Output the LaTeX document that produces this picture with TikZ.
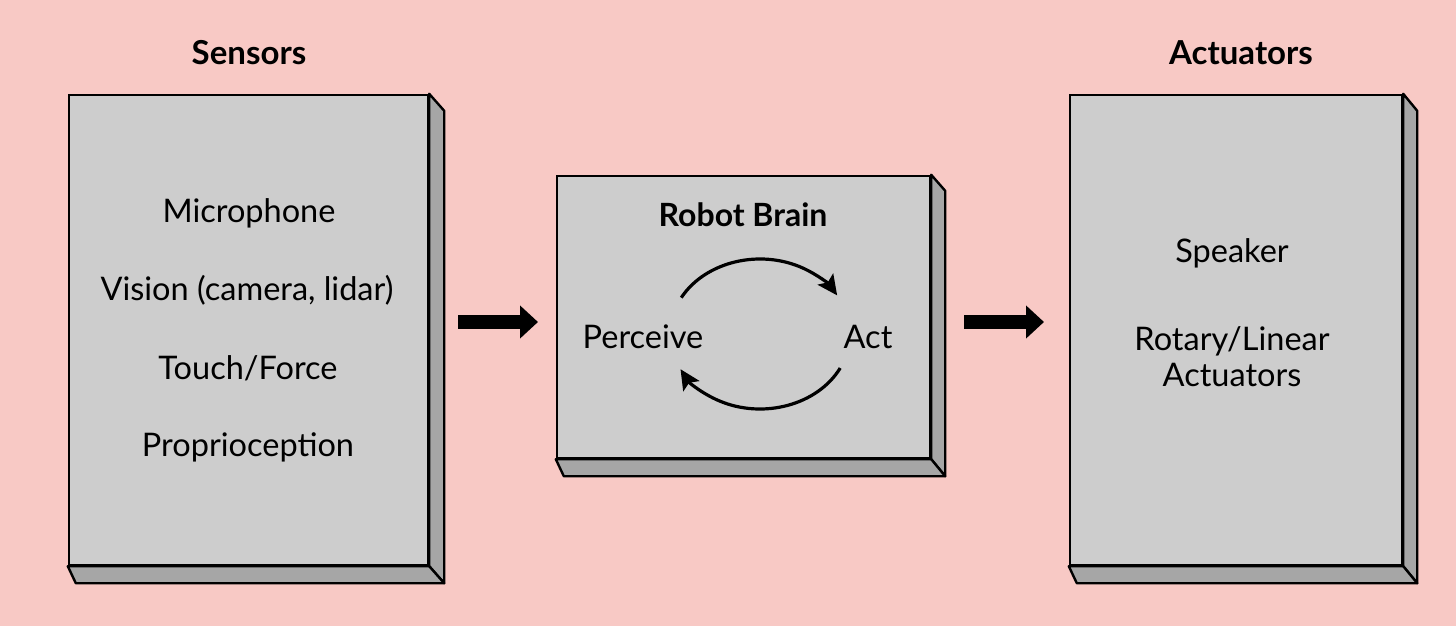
\documentclass[tikz,border=0pt]{standalone}
\usepackage{fontspec}
\setmainfont{Lato}
\usetikzlibrary{arrows.meta}
\definecolor{bgpink}{HTML}{F8C9C5}
\definecolor{frontgray}{HTML}{CDCDCD}
\definecolor{sidegray}{HTML}{A6A6A6}
\tikzset{
  front/.style={draw=black, line width=2.4pt, fill=frontgray, inner sep=0pt},
  sideface/.style={draw=black, line width=2.4pt, fill=sidegray, line join=round},
  lbl/.style={font=\fontsize{32.5}{36}\selectfont, inner sep=0pt, align=center},
  ttl/.style={font=\fontsize{33}{36}\selectfont\bfseries, inner sep=0pt},
  bigarrow/.style={line width=14pt, -{Triangle[length=18pt,width=32pt]}},
  looparrow/.style={line width=3.2pt, -{Stealth[length=20pt,width=19pt,inset=4pt]}}
}
\begin{document}
\begin{tikzpicture}[x=1pt,y=-1pt]
\useasboundingbox (0,0) rectangle (1456,626);
\fill[bgpink] (0,0) rectangle (1456,626);

% Sensors box
\node[front, minimum width=359pt, minimum height=470pt] (sens) at (248.5,330) {};
\filldraw[sideface] (sens.north east) -- ++(15,17) -- ([shift={(15,17)}]sens.south east) -- (sens.south east) -- cycle;
\filldraw[sideface] (sens.south west) -- (sens.south east) -- ([shift={(15,17)}]sens.south east) -- ([shift={(8,17)}]sens.south west) -- cycle;

% Brain box
\node[front, minimum width=373pt, minimum height=282pt] (brain) at (743.5,317) {};
\filldraw[sideface] (brain.north east) -- ++(14,16) -- ([shift={(14,17)}]brain.south east) -- (brain.south east) -- cycle;
\filldraw[sideface] (brain.south west) -- (brain.south east) -- ([shift={(14,17)}]brain.south east) -- ([shift={(8,17)}]brain.south west) -- cycle;

% Actuators box
\node[front, minimum width=332pt, minimum height=470pt] (act) at (1236,330) {};
\filldraw[sideface] (act.north east) -- ++(14,17) -- ([shift={(14,17)}]act.south east) -- (act.south east) -- cycle;
\filldraw[sideface] (act.south west) -- (act.south east) -- ([shift={(14,17)}]act.south east) -- ([shift={(8,17)}]act.south west) -- cycle;

% Titles
\node[ttl] (tsens) at (249,53) {Sensors};
\node[ttl] (tact) at (1241,53) {Actuators};

% Sensor labels
\node[lbl] (mic) at (249,213) {Microphone};
\node[lbl] (vis) at (247,290) {Vision (camera, lidar)};
\node[lbl] (touch) at (248,368) {Touch/Force};
\node[lbl] (prop) at (248,447) {Proprioception};

% Brain labels
\node[lbl, font=\fontsize{32}{36}\selectfont\bfseries] (rb) at (743,215) {Robot Brain};
\node[lbl] (perc) at (643,337) {Perceive};
\node[lbl] (actl) at (868,337) {Act};

% Actuator labels
\node[lbl] (spk) at (1232,253) {Speaker};
\node[lbl, font=\fontsize{32.5}{36}\selectfont] (rot) at (1232,357) {Rotary/Linear\\Actuators};

% Big arrows
\coordinate (a1s) at (458,322);
\coordinate (a1e) at (538,322);
\coordinate (a2s) at (964,322);
\coordinate (a2e) at (1044,322);
\draw[bigarrow] (a1s) -- (a1e);
\draw[bigarrow] (a2s) -- (a2e);

% Loop arrows
\coordinate (lc) at (760,334);
\coordinate (l1) at ([shift={(209:90 and 75)}]lc);
\coordinate (l2) at ([shift={(27:90 and 75)}]lc);
\draw[looparrow] (l1) arc[start angle=209, end angle=329, x radius=90, y radius=75];
\draw[looparrow] (l2) arc[start angle=27, end angle=152, x radius=90, y radius=75];
\end{tikzpicture}
\end{document}
